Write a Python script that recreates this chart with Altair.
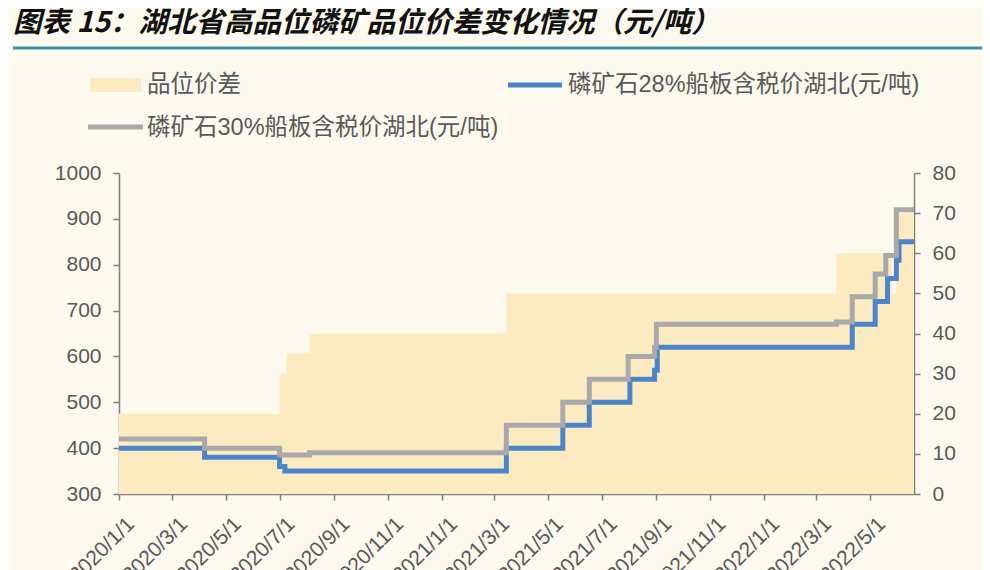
"""湖北省高品位磷矿品位价差变化情况 — step lines on a spread area, two y axes."""

import pandas as pd
import altair as alt

# 磷矿石28%船板含税价湖北 (元/吨), step change points
blue_dates = [
    "2020-01-01", "2020-04-07", "2020-07-01", "2020-07-07", "2021-03-15",
    "2021-05-18", "2021-06-17", "2021-08-02", "2021-08-30", "2021-09-02",
    "2022-04-11", "2022-05-07", "2022-05-21", "2022-05-31", "2022-06-03",
    "2022-06-20",
]
blue_vals = [400, 380, 360, 350, 400, 450, 500, 550, 570, 620, 670, 720, 770, 810, 850, 850]

# 磷矿石30%船板含税价湖北 (元/吨)
gray_dates = [
    "2020-01-01", "2020-04-07", "2020-07-01", "2020-08-04", "2021-03-15",
    "2021-05-18", "2021-06-17", "2021-07-31", "2021-08-30", "2021-09-01",
    "2022-03-24", "2022-04-11", "2022-05-07", "2022-05-19", "2022-05-31",
    "2022-06-20",
]
gray_vals = [420, 400, 385, 390, 450, 500, 550, 600, 620, 670, 675, 730, 780, 820, 920, 920]

# 品位价差 (right axis)
spread_dates = [
    "2020-01-01", "2020-07-01", "2020-07-09", "2020-08-04", "2021-03-15",
    "2022-03-24", "2022-05-26", "2022-05-31", "2022-06-20",
]
spread_vals = [20, 30, 35, 40, 50, 60, 50, 70, 70]

tick_months = [(2020, m) for m in (1, 3, 5, 7, 9, 11)] + \
              [(2021, m) for m in (1, 3, 5, 7, 9, 11)] + \
              [(2022, m) for m in (1, 3, 5)]

TITLE = "图表 15：湖北省高品位磷矿品位价差变化情况（元/吨）"
LEG_SPREAD = "品位价差"
LEG_BLUE = "磷矿石28%船板含税价湖北(元/吨)"
LEG_GRAY = "磷矿石30%船板含税价湖北(元/吨)"

BG = "#FDF9EE"
AREA = "#FCEBC1"
BLUE = "#4A84C9"
GRAY = "#A9A9A9"
TEAL = "#3E8FA3"
FONT = "Liberation Sans, Noto Sans CJK SC"

blue_df = pd.DataFrame({"date": blue_dates, "value": blue_vals})
gray_df = pd.DataFrame({"date": gray_dates, "value": gray_vals})
spread_df = pd.DataFrame({"date": spread_dates, "value": spread_vals})

x_scale = alt.Scale(
    type="utc",
    domain=[alt.DateTime(year=2020, month=1, date=1, utc=True),
            alt.DateTime(year=2022, month=6, date=20, utc=True)],
)
x_axis = alt.Axis(
    values=[alt.DateTime(year=y, month=m, date=1, utc=True) for y, m in tick_months],
    labelExpr="utcFormat(datum.value, '%Y/%-m/%-d')",
    labelAngle=-45,
    labelAlign="right",
    labelBaseline="top",
    labelPadding=13,
    labelOffset=4,
    labelFontSize=21,
    labelOverlap=False,
    labelFlush=False,
    labelBound=False,
    title=None,
    grid=False,
)
X = alt.X("date:T", scale=x_scale, axis=x_axis)

area = (
    alt.Chart(spread_df)
    .mark_area(interpolate="step-after", color=AREA)
    .encode(
        X,
        alt.Y("value:Q", scale=alt.Scale(domain=[0, 80], nice=False),
              axis=alt.Axis(orient="right", values=list(range(0, 81, 10)),
                            title=None, grid=False, labelPadding=12, format="d")),
    )
)

left_y = alt.Y("value:Q", scale=alt.Scale(domain=[300, 1000], nice=False),
               axis=alt.Axis(orient="left", values=list(range(300, 1001, 100)),
                             title=None, grid=False, labelPadding=12, format="d"))

blue_line = (
    alt.Chart(blue_df)
    .mark_line(interpolate="step-after", color=BLUE, strokeWidth=5)
    .encode(X, left_y)
)
gray_line = (
    alt.Chart(gray_df)
    .mark_line(interpolate="step-after", color=GRAY, strokeWidth=5)
    .encode(X, alt.Y("value:Q", scale=alt.Scale(domain=[300, 1000], nice=False), axis=None))
)

# header and legend drawn in pixel space around the plot
one = pd.DataFrame({"k": [0]})

rules = alt.Chart(one).mark_rule(color=TEAL, strokeWidth=3).encode(
    x=alt.value(-106), x2=alt.value(871), y=alt.value(-167)
) + alt.Chart(one).mark_rule(color=TEAL, strokeWidth=3).encode(
    x=alt.value(-106), x2=alt.value(871), y=alt.value(-125)
)

title = alt.Chart(one).mark_text(
    align="left", baseline="middle", fontSize=28.5, fontWeight="bold",
    fontStyle="italic", font="Noto Sans CJK SC", color="#111111",
).encode(x=alt.value(-106), y=alt.value(-150), text=alt.value(TITLE))

leg_box = alt.Chart(one).mark_rect(color=AREA).encode(
    x=alt.value(-29), x2=alt.value(22), y=alt.value(-95), y2=alt.value(-81)
)
leg_blue = alt.Chart(one).mark_rule(color=BLUE, strokeWidth=5).encode(
    x=alt.value(389), x2=alt.value(443), y=alt.value(-88)
)
leg_gray = alt.Chart(one).mark_rule(color=GRAY, strokeWidth=5).encode(
    x=alt.value(-31), x2=alt.value(24), y=alt.value(-46)
)


def leg_text(label, x, y):
    return alt.Chart(one).mark_text(
        align="left", baseline="middle", fontSize=23.5, font=FONT, color="#595959"
    ).encode(x=alt.value(x), y=alt.value(y), text=alt.value(label))


legend = (
    leg_box + leg_blue + leg_gray
    + leg_text(LEG_SPREAD, 28, -88)
    + leg_text(LEG_BLUE, 449, -88)
    + leg_text(LEG_GRAY, 28, -45)
)

chart = (
    alt.layer(area, blue_line, gray_line, rules, title, legend)
    .resolve_scale(y="independent")
    .properties(
        width=795,
        height=321,
        background=BG,
        autosize=alt.AutoSizeParams(type="none"),
        padding={"left": 111, "top": 165, "right": 68, "bottom": 100},
    )
    .configure_view(stroke=None)
    .configure_axis(
        domainColor="#7F7F7F",
        domainWidth=1.5,
        tickColor="#7F7F7F",
        tickWidth=1.5,
        tickSize=6,
        labelColor="#595959",
        labelFont="Liberation Sans",
        labelFontSize=21,
    )
)

chart.save("out.html", embed_options={"renderer": "svg", "actions": False})
